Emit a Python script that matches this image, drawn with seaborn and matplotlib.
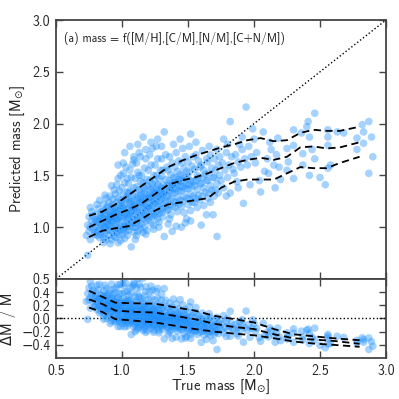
import numpy as np
import pandas as pd
import matplotlib
matplotlib.use("Agg")
import matplotlib.pyplot as plt
import seaborn as sns

# ---- scatter data (true mass, predicted mass) ----
true_mass = [
    0.73,0.74,0.74,0.75,0.75,0.76,0.76,0.77,0.77,0.78,0.78,0.79,0.79,0.76,
    0.80,0.80,0.81,0.81,0.82,0.82,0.83,0.83,0.84,0.84,0.80,0.81,0.82,0.83,0.84,0.83,0.80,0.84,
    0.85,0.85,0.85,0.86,0.86,0.86,0.87,0.87,0.87,0.88,0.88,0.88,0.88,0.89,0.89,0.89,0.86,0.87,0.89,0.85,0.88,0.86,0.89,0.87,
    0.90,0.90,0.90,0.90,0.91,0.91,0.91,0.91,0.92,0.92,0.92,0.92,0.93,0.93,0.93,0.93,0.94,0.94,0.94,0.94,0.90,0.91,0.92,0.93,0.94,0.92,0.91,0.93,
    0.95,0.95,0.95,0.95,0.95,0.96,0.96,0.96,0.96,0.96,0.97,0.97,0.97,0.97,0.97,0.98,0.98,0.98,0.98,0.98,0.99,0.99,0.99,0.99,0.99,0.96,0.97,0.98,0.95,0.99,
    1.00,1.00,1.00,1.00,1.00,1.01,1.01,1.01,1.01,1.01,1.02,1.02,1.02,1.02,1.02,1.03,1.03,1.03,1.03,1.03,1.04,1.04,1.04,1.04,1.04,1.00,1.02,1.04,1.01,1.03,
    1.05,1.05,1.05,1.05,1.05,1.06,1.06,1.06,1.06,1.06,1.07,1.07,1.07,1.07,1.07,1.08,1.08,1.08,1.08,1.08,1.09,1.09,1.09,1.09,1.09,1.06,1.07,1.08,1.05,1.09,
    1.10,1.10,1.10,1.10,1.10,1.11,1.11,1.11,1.11,1.11,1.12,1.12,1.12,1.12,1.12,1.13,1.13,1.13,1.13,1.13,1.14,1.14,1.14,1.14,1.14,1.10,1.12,1.14,1.11,1.13,
    1.15,1.15,1.15,1.15,1.15,1.16,1.16,1.16,1.16,1.16,1.17,1.17,1.17,1.17,1.17,1.18,1.18,1.18,1.18,1.18,1.19,1.19,1.19,1.19,1.19,1.16,1.17,1.18,
    1.20,1.20,1.20,1.20,1.20,1.21,1.21,1.21,1.21,1.21,1.22,1.22,1.22,1.22,1.22,1.23,1.23,1.23,1.23,1.23,1.24,1.24,1.24,1.24,1.24,1.21,1.22,1.23,
    1.25,1.25,1.25,1.25,1.25,1.26,1.26,1.26,1.26,1.26,1.27,1.27,1.27,1.27,1.27,1.28,1.28,1.28,1.28,1.28,1.29,1.29,1.29,1.29,1.26,1.28,
    1.30,1.30,1.30,1.30,1.30,1.31,1.31,1.31,1.31,1.31,1.32,1.32,1.32,1.32,1.33,1.33,1.33,1.33,1.34,1.34,1.34,1.34,1.30,1.33,
    1.35,1.35,1.35,1.35,1.36,1.36,1.36,1.36,1.37,1.37,1.37,1.37,1.38,1.38,1.38,1.38,1.39,1.39,1.39,1.39,1.36,1.38,
    1.40,1.40,1.40,1.40,1.41,1.41,1.41,1.41,1.42,1.42,1.42,1.42,1.43,1.43,1.43,1.43,1.44,1.44,1.44,1.44,1.41,1.43,
    1.45,1.45,1.45,1.45,1.46,1.46,1.46,1.46,1.47,1.47,1.47,1.47,1.48,1.48,1.48,1.48,1.49,1.49,1.49,1.49,
    1.50,1.50,1.50,1.50,1.51,1.51,1.51,1.51,1.52,1.52,1.52,1.53,1.53,1.53,1.54,1.54,1.54,1.52,
    1.55,1.55,1.55,1.56,1.56,1.56,1.57,1.57,1.57,1.58,1.58,1.58,1.59,1.59,1.59,1.56,
    1.60,1.60,1.60,1.61,1.61,1.61,1.62,1.62,1.62,1.63,1.63,1.64,1.64,1.64,
    1.65,1.65,1.65,1.66,1.66,1.67,1.67,1.67,1.68,1.68,1.69,1.69,1.66,
    1.70,1.70,1.70,1.71,1.71,1.72,1.72,1.72,1.73,1.73,1.74,1.74,
    1.75,1.76,1.77,1.78,1.79,1.80,1.80,1.81,1.82,1.83,1.84,1.77,1.79,1.82,
    1.85,1.86,1.87,1.88,1.89,1.90,1.91,1.92,1.93,1.94,1.88,1.91,
    1.95,1.96,1.97,1.98,1.99,2.00,2.01,2.02,2.04,2.05,2.07,2.08,
    2.10,2.11,2.12,2.13,2.15,2.16,2.17,2.18,2.19,2.20,
    2.30,2.41,2.46,2.40,2.36,2.42,2.56,2.56,2.63,2.68,2.78,2.83,2.87,2.82,2.89,2.83,2.78,2.56,2.44,2.37,
    2.30,2.25,2.26,2.37,2.46,2.58,2.56,2.42,2.30,2.25,2.50,2.54,2.87,2.90,
    1.02,1.06,1.12,1.18,1.22,1.27,1.14,1.30,0.97,1.09,
    1.10,1.18,1.24,1.28,1.35,1.45,1.52,1.38,1.04,1.16,
]
pred_mass = [
    0.92,0.73,1.02,0.96,1.10,1.00,0.88,1.06,1.15,0.98,1.11,1.04,0.93,1.19,
    1.00,1.12,0.92,1.05,1.18,0.97,1.08,0.90,1.02,1.14,0.95,1.22,1.06,0.99,0.93,1.26,1.07,1.10,
    0.96,1.04,1.15,0.90,1.08,1.22,1.00,1.12,0.94,1.05,1.18,0.88,1.28,1.02,1.10,0.97,1.01,1.31,1.20,1.09,0.99,0.85,1.06,1.16,
    0.92,1.03,1.12,1.24,0.97,1.07,1.16,1.30,0.88,1.01,1.10,1.20,0.95,1.05,1.14,1.27,0.99,1.09,1.18,1.36,1.08,1.13,1.06,1.22,0.91,1.40,0.84,1.11,
    0.90,1.02,1.11,1.19,1.32,0.95,1.06,1.14,1.24,1.41,0.99,1.09,1.16,1.28,0.85,1.04,1.12,1.21,1.35,0.93,1.00,1.10,1.18,1.26,1.50,1.08,1.47,0.97,1.15,0.87,
    0.93,1.06,1.15,1.24,1.38,0.98,1.10,1.19,1.31,1.52,1.01,1.12,1.22,1.43,0.89,1.04,1.14,1.27,1.58,0.96,1.08,1.17,1.34,1.02,1.47,1.20,0.99,1.11,1.62,1.29,
    0.97,1.09,1.18,1.28,1.42,1.01,1.13,1.22,1.35,1.55,0.81,1.05,1.16,1.25,1.48,1.00,1.11,1.20,1.31,1.61,0.95,1.07,1.19,1.38,1.68,1.24,1.15,1.04,1.33,1.26,
    1.00,1.12,1.21,1.32,1.47,1.04,1.16,1.26,1.39,1.62,0.96,1.09,1.19,1.29,1.53,1.02,1.14,1.24,1.36,1.72,0.98,1.10,1.22,1.44,1.31,1.18,1.07,1.28,0.92,1.50,
    1.03,1.15,1.24,1.35,1.50,1.87,1.08,1.19,1.29,1.43,1.00,1.12,1.22,1.33,1.57,1.06,1.17,1.27,1.40,1.66,1.10,1.20,1.31,1.46,0.97,1.25,1.37,1.13,
    1.07,1.19,1.28,1.39,1.55,1.11,1.23,1.32,1.45,1.70,1.04,1.16,1.26,1.36,1.60,1.10,1.21,1.30,1.42,1.76,1.13,1.25,1.34,1.50,1.02,1.29,1.18,1.38,
    1.11,1.23,1.32,1.44,1.60,1.15,1.27,1.37,1.50,1.78,1.08,1.20,1.30,1.41,1.66,1.13,1.25,1.35,1.47,1.05,1.17,1.29,1.39,1.55,1.33,1.21,
    1.14,1.27,1.37,1.49,1.66,1.18,1.31,1.41,1.55,1.10,1.92,0.91,1.23,1.34,1.20,1.35,1.46,1.70,1.16,1.29,1.40,1.58,1.33,1.25,
    1.17,1.30,1.40,1.55,1.22,1.35,1.45,1.68,1.12,1.27,1.38,1.51,1.20,1.33,1.43,1.62,1.25,1.37,1.48,1.80,1.08,1.41,
    1.19,1.33,1.43,1.58,1.24,1.37,1.48,1.72,1.15,1.29,1.41,1.54,1.22,1.35,1.46,1.64,1.26,1.39,1.51,1.85,1.01,1.44,
    1.20,1.35,1.45,1.62,1.25,1.39,1.50,1.76,1.14,1.30,1.43,1.57,1.04,1.37,1.48,1.68,1.28,1.41,1.54,1.08,
    1.22,1.37,1.47,1.63,1.27,1.41,1.53,1.78,1.16,1.32,1.45,1.24,1.39,1.59,1.30,1.44,1.68,1.90,
    1.24,1.40,1.56,1.28,1.45,1.70,1.19,1.36,1.50,1.31,1.48,1.64,1.26,1.42,1.58,1.82,
    1.02,1.42,1.60,1.30,1.48,1.74,1.21,1.38,1.55,1.34,1.51,1.12,1.45,1.66,
    1.28,1.45,1.63,1.33,1.52,1.24,1.40,1.70,1.36,1.57,1.12,1.48,1.78,
    1.30,1.48,1.66,1.36,1.55,0.91,1.42,1.75,1.33,1.60,1.50,1.68,
    1.45,1.62,1.38,1.55,1.72,1.48,1.80,1.60,2.02,1.68,1.56,1.85,1.30,1.33,
    1.52,1.70,1.44,1.63,1.80,1.58,1.75,1.23,1.66,2.16,1.38,1.87,
    1.60,1.78,1.41,1.68,1.95,1.85,1.62,1.72,1.45,1.34,1.92,1.54,
    1.66,1.52,1.82,1.75,1.60,1.38,1.70,1.86,1.58,1.46,
    1.94,2.02,2.10,1.97,1.91,1.87,1.94,1.87,1.92,1.91,1.86,1.92,2.02,1.99,1.87,1.81,1.75,1.79,1.75,1.71,
    1.79,1.76,1.63,1.60,1.66,1.60,1.57,1.50,1.47,1.55,1.48,1.41,1.52,1.68,
    1.72,1.78,1.80,1.75,1.82,1.85,1.68,1.78,1.60,1.65,
    0.88,0.93,0.98,1.00,1.03,1.00,1.06,0.96,0.92,0.95,
]

# ---- running percentile curves (16th / 50th / 84th) ----
band_x = [0.75,0.85,0.95,1.05,1.15,1.25,1.35,1.45,1.55,1.65,1.75,1.85,1.95,2.05,2.15,2.25,2.35,2.45,2.55,2.65,2.80]
band_hi = [1.11,1.15,1.22,1.31,1.40,1.49,1.58,1.64,1.69,1.73,1.77,1.80,1.84,1.86,1.83,1.84,1.91,1.94,1.93,1.93,1.97]
band_mid = [1.00,1.06,1.12,1.17,1.23,1.32,1.41,1.45,1.48,1.52,1.57,1.62,1.65,1.67,1.65,1.68,1.77,1.78,1.76,1.77,1.82]
band_lo = [0.905,0.965,0.99,1.01,1.08,1.16,1.22,1.24,1.26,1.28,1.38,1.44,1.46,1.46,1.46,1.52,1.58,1.57,1.57,1.62,1.68]

dband_x = [0.75,0.85,0.95,1.10,1.25,1.40,1.55,1.70,1.85,2.00,2.15,2.30,2.45,2.60,2.80]
dband_hi = [0.42,0.33,0.24,0.23,0.225,0.17,0.12,0.04,-0.01,-0.06,-0.16,-0.24,-0.27,-0.30,-0.33]
dband_mid = [0.29,0.22,0.12,0.10,0.09,0.04,-0.01,-0.08,-0.13,-0.16,-0.24,-0.30,-0.32,-0.34,-0.385]
dband_lo = [0.165,0.10,-0.01,-0.035,-0.06,-0.11,-0.16,-0.20,-0.23,-0.255,-0.30,-0.35,-0.38,-0.40,-0.43]

x_ticks = [0.5, 1.0, 1.5, 2.0, 2.5, 3.0]
y_ticks = [0.5, 1.0, 1.5, 2.0, 2.5, 3.0]
d_ticks = [-0.4, -0.2, 0.0, 0.2, 0.4]

sns.set_style("ticks")
plt.rcParams["font.family"] = ["cmss10", "DejaVu Sans"]
plt.rcParams["mathtext.fontset"] = "dejavusans"
plt.rcParams["axes.unicode_minus"] = True

df = pd.DataFrame({"true": true_mass, "pred": pred_mass})
df["delta"] = (df["pred"] - df["true"]) / df["true"]

fig = plt.figure(figsize=(3.99, 3.99), dpi=100)
ax1 = fig.add_axes([0.1404, 0.3008, 0.827, 0.649])
ax2 = fig.add_axes([0.1404, 0.1028, 0.827, 0.198])

pt_col = "#1E90FF"
sns.scatterplot(data=df, x="true", y="pred", ax=ax1, color=pt_col, alpha=0.4,
                s=30, edgecolor="none", linewidth=0, legend=False, zorder=2)
sns.scatterplot(data=df, x="true", y="delta", ax=ax2, color=pt_col, alpha=0.4,
                s=30, edgecolor="none", linewidth=0, legend=False, zorder=2)

for arr in (band_hi, band_mid, band_lo):
    sns.lineplot(x=band_x, y=arr, ax=ax1, color="black", lw=1.3, sort=False,
                 estimator=None, dashes=False, zorder=3).lines[-1].set_dashes((4, 2.5))
for arr in (dband_hi, dband_mid, dband_lo):
    sns.lineplot(x=dband_x, y=arr, ax=ax2, color="black", lw=1.3, sort=False,
                 estimator=None, dashes=False, zorder=3).lines[-1].set_dashes((4, 2.5))

ax1.plot([0.5, 3.0], [0.5, 3.0], ls=":", color="black", lw=1.0, zorder=1)
ax2.axhline(0.0, ls=":", color="black", lw=1.0, zorder=1)

for ax in (ax1, ax2):
    ax.set_xlim(0.5, 3.0)
    ax.set_xticks(x_ticks)
    ax.tick_params(direction="in", top=True, right=True, length=5, width=1.0,
                   color="#444444", labelsize=10, pad=4)
    for sp in ax.spines.values():
        sp.set_color("#444444")
        sp.set_linewidth(1.3)

ax1.set_ylim(0.5, 3.0)
ax1.set_yticks(y_ticks)
ax1.set_yticklabels([f"{v:.1f}" for v in y_ticks])
ax1.tick_params(labelbottom=False)
ax1.set_xlabel("")
ax1.set_ylabel(r"Predicted mass [M$_{\odot}$]", fontsize=10.5)
ax1.text(0.025, 0.955, "(a) mass = f([M/H],[C/M],[N/M],[C+N/M])", transform=ax1.transAxes,
         fontsize=8.4, va="top", ha="left")

ax2.set_ylim(-0.6, 0.6)
ax2.set_yticks(d_ticks)
ax2.set_yticklabels(["\u22120.4", "\u22120.2", "0.0", "0.2", "0.4"])
ax2.set_xticklabels([f"{v:.1f}" for v in x_ticks])
ax2.set_xlabel(r"True mass [M$_{\odot}$]", fontsize=10.5, labelpad=0)
ax2.set_ylabel("\u0394M / M", fontsize=10.5)

fig.savefig("out.png", dpi=100)
